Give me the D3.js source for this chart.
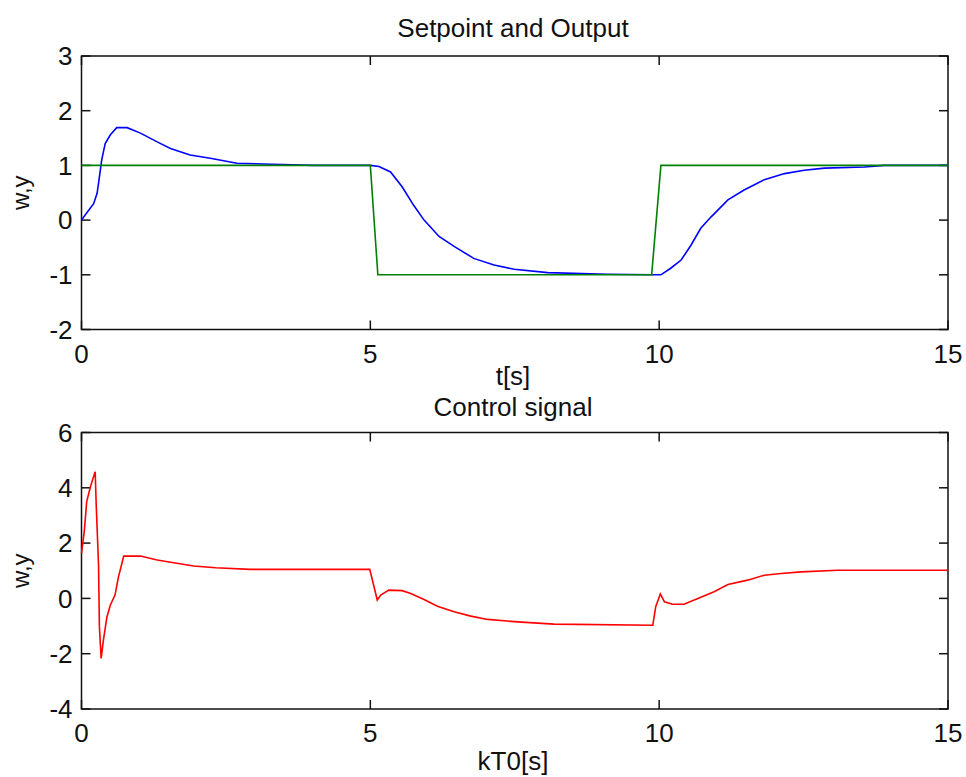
<!DOCTYPE html>
<html>
<head>
<meta charset="utf-8">
<script src="https://cdn.jsdelivr.net/npm/d3@7"></script>
<style>
    body { margin: 0; background: #fff; }
    text { font-family: "Liberation Sans", Arial, sans-serif; fill: #111; }
    .frame { fill: none; stroke: #111; stroke-width: 1.5; }
    .tick { stroke: #111; stroke-width: 1.5; }
    .trace { fill: none; stroke-width: 1.6; stroke-linejoin: miter; }
</style>
</head>
<body>
<div id="fig"></div>
<script>
'use strict';

// Time axis ticks (shared)
const xTicks = [0, 5, 10, 15];
const topYTicks = [-2, -1, 0, 1, 2, 3];
const bottomYTicks = [-4, -2, 0, 2, 4, 6];

// Output y (blue)
const outputTime = [0, 0.06, 0.21, 0.27, 0.31, 0.35, 0.41, 0.50, 0.61, 0.79, 1.02, 1.31, 1.54, 1.88, 2.23, 2.69, 3.30, 4.0,
    5.0, 5.15, 5.35, 5.55, 5.75, 5.93, 6.19, 6.45, 6.79, 7.14, 7.49, 8.07, 9.1, 9.89,
    10.03, 10.2, 10.38, 10.55, 10.72, 10.9, 11.19, 11.47, 11.82, 12.17, 12.51, 12.86, 13.55, 13.9, 15];
const outputValues = [0, 0.09, 0.3, 0.49, 0.79, 1.10, 1.40, 1.56, 1.69, 1.69, 1.59, 1.43, 1.31, 1.19, 1.13, 1.04, 1.02, 1.0,
    1.0, 0.98, 0.88, 0.61, 0.27, 0.0, -0.30, -0.48, -0.70, -0.82, -0.90, -0.96, -0.99, -1.0,
    -1.0, -0.88, -0.73, -0.46, -0.15, 0.06, 0.37, 0.55, 0.74, 0.85, 0.91, 0.95, 0.97, 1.0, 1.0];

// Setpoint w (green)
const setpointTime = [0, 5.0, 5.13, 9.87, 10.03, 15];
const setpointValues = [1, 1, -1, -1, 1, 1];

// Control signal u (red)
const controlTime = [0, 0.05, 0.09, 0.15, 0.2, 0.237, 0.255, 0.295, 0.31, 0.34, 0.38, 0.44, 0.5, 0.58, 0.64, 0.70, 0.73,
    1.02, 1.31, 1.65, 1.94, 2.32, 2.92, 4.99, 5.12, 5.18, 5.32, 5.55, 5.70, 5.93, 6.16, 6.45, 6.74, 7.03, 7.55, 8.18, 9.89,
    9.94, 10.02, 10.09, 10.23, 10.43, 10.67, 10.95, 11.19, 11.53, 11.82, 12.11, 12.46, 13.09, 15];
const controlValues = [1.63, 2.47, 3.5, 4.0, 4.35, 4.58, 3.37, 1.2, -1.03, -2.17, -1.5, -0.67, -0.24, 0.12, 0.78, 1.27, 1.53,
    1.53, 1.39, 1.27, 1.17, 1.11, 1.05, 1.05, -0.06, 0.12, 0.30, 0.28, 0.18, -0.04, -0.28, -0.48, -0.64, -0.76, -0.85, -0.93, -0.97,
    -0.3, 0.16, -0.12, -0.21, -0.21, 0.0, 0.24, 0.5, 0.66, 0.84, 0.9, 0.96, 1.02, 1.02];

const zipSeries = (ts, vs) => ts.map((t, i) => ({t: t, v: vs[i]}));

class SubPlot {

    constructor(_svg, _cfg) {
        this.svg = _svg;
        this.cfg = _cfg;
        this.initVis();
    }

    initVis() {
        const vis = this;
        const c = vis.cfg;

        vis.g = vis.svg.append('g');

        // Scales
        vis.xScale = d3.scaleLinear().domain([0, 15]).range([c.left, c.right]);
        vis.yScale = d3.scaleLinear().domain(c.yDomain).range([c.bottom, c.top]);

        // Box
        vis.g.append('rect')
            .attr('class', 'frame')
            .attr('x', c.left)
            .attr('y', c.top)
            .attr('width', c.right - c.left)
            .attr('height', c.bottom - c.top);

        const tl = 9;

        // x ticks, bottom and top, inward
        xTicks.forEach(t => {
            const x = vis.xScale(t);
            vis.g.append('line').attr('class', 'tick')
                .attr('x1', x).attr('x2', x).attr('y1', c.bottom).attr('y2', c.bottom - tl);
            vis.g.append('line').attr('class', 'tick')
                .attr('x1', x).attr('x2', x).attr('y1', c.top).attr('y2', c.top + tl);
            vis.g.append('text')
                .attr('x', x)
                .attr('y', c.bottom + 33)
                .attr('text-anchor', 'middle')
                .style('font-size', '26px')
                .text(t);
        });

        // y ticks, left and right, inward
        c.yTicks.forEach(v => {
            const y = vis.yScale(v);
            vis.g.append('line').attr('class', 'tick')
                .attr('x1', c.left).attr('x2', c.left + tl).attr('y1', y).attr('y2', y);
            vis.g.append('line').attr('class', 'tick')
                .attr('x1', c.right).attr('x2', c.right - tl).attr('y1', y).attr('y2', y);
            vis.g.append('text')
                .attr('x', c.left - 9)
                .attr('y', y)
                .attr('dy', '0.36em')
                .attr('text-anchor', 'end')
                .style('font-size', '26px')
                .text(v);
        });

        // Labels
        vis.g.append('text')
            .attr('x', 513)
            .attr('y', c.top - c.titleOffset)
            .attr('text-anchor', 'middle')
            .style('font-size', '26px')
            .text(c.title);

        vis.g.append('text')
            .attr('x', 513)
            .attr('y', c.bottom + c.xLabelOffset)
            .attr('text-anchor', 'middle')
            .style('font-size', '26px')
            .text(c.xLabel);

        vis.g.append('text')
            .attr('transform', `translate(29, ${(c.top + c.bottom) / 2}) rotate(-90)`)
            .attr('text-anchor', 'middle')
            .style('font-size', '24px')
            .text(c.yLabel);

        // Line maker
        vis.lineMaker = d3.line()
            .x(d => vis.xScale(d.t))
            .y(d => vis.yScale(d.v));

        vis.traceG = vis.g.append('g');
        c.series.forEach(s => {
            vis.traceG.append('path')
                .attr('class', 'trace')
                .attr('stroke', s.color)
                .attr('d', vis.lineMaker(s.data));
        });
    }
}

const svg = d3.select('#fig')
    .append('svg')
    .attr('width', 966)
    .attr('height', 777)
    .style('background', '#fff');

new SubPlot(svg, {
    left: 81.5, right: 948, top: 56, bottom: 329.5,
    yDomain: [-2, 3],
    yTicks: topYTicks,
    title: 'Setpoint and Output',
    titleOffset: 19,
    xLabel: 't[s]',
    xLabelOffset: 55.5,
    yLabel: 'w,y',
    series: [
        {color: '#0000ff', data: zipSeries(outputTime, outputValues)},
        {color: '#008000', data: zipSeries(setpointTime, setpointValues)}
    ]
});

new SubPlot(svg, {
    left: 81.5, right: 948, top: 432.5, bottom: 709,
    yDomain: [-4, 6],
    yTicks: bottomYTicks,
    title: 'Control signal',
    titleOffset: 17,
    xLabel: 'kT0[s]',
    xLabelOffset: 61,
    yLabel: 'w,y',
    series: [
        {color: '#ff0000', data: zipSeries(controlTime, controlValues)}
    ]
});
</script>
</body>
</html>
